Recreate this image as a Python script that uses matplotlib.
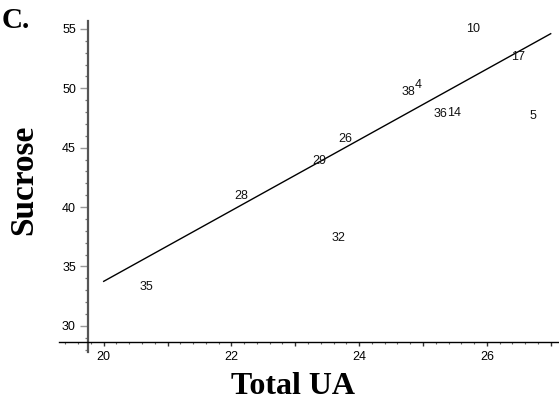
import matplotlib
matplotlib.use("Agg")
import matplotlib.pyplot as plt
from matplotlib.ticker import MultipleLocator, FixedLocator

# data
ids = ["10", "17", "38", "4", "36", "14", "5", "26", "29", "28", "32", "35"]
total_ua = [25.78, 26.49, 24.78, 24.92, 25.28, 25.49, 26.72, 23.79, 23.37, 22.16, 23.68, 20.67]
sucrose = [55.0, 52.65, 49.7, 50.3, 47.85, 47.9, 47.7, 45.75, 43.9, 40.9, 37.4, 33.3]

# regression line end points
fit_x = [20.0, 27.0]
fit_y = [33.75, 54.6]

yticks = [30, 35, 40, 45, 50, 55]

fig = plt.figure(figsize=(5.59, 4.01), dpi=100)
ax = fig.add_axes([59 / 559, 49 / 401, 500 / 559, 331 / 401])

ax.plot(fit_x, fit_y, color="black", lw=1.0)

for lab, x, y in zip(ids, total_ua, sucrose):
    ax.text(x, y, lab, ha="center", va="center", fontsize=9,
            family="Liberation Sans", color="#111111")

ax.set_xlim(19.3, 27.13)
ax.set_ylim(27.8, 55.67)

# axes crossing like the original
ax.spines["top"].set_visible(False)
ax.spines["right"].set_visible(False)
ax.spines["left"].set_position(("data", 19.75))
ax.spines["bottom"].set_position(("data", 28.65))
ax.spines["left"].set_color("#555555")
ax.spines["left"].set_linewidth(1.6)
ax.spines["bottom"].set_color("black")
ax.spines["bottom"].set_linewidth(1.0)

ax.xaxis.set_major_locator(FixedLocator([20, 21, 22, 23, 24, 25, 26, 27]))
ax.set_xticklabels(["20", "", "22", "", "24", "", "26", ""])
ax.xaxis.set_minor_locator(MultipleLocator(0.2))
ax.yaxis.set_major_locator(FixedLocator(yticks))
ax.yaxis.set_minor_locator(MultipleLocator(1))

ax.tick_params(axis="x", which="major", direction="out", length=3, width=1,
               color="#333333", labelsize=9, pad=3.5)
ax.tick_params(axis="x", which="minor", direction="out", length=1.2, width=0.8,
               color="#666666")
ax.tick_params(axis="y", which="major", direction="out", length=6, width=1,
               color="#999999", labelsize=9, pad=2.5)
ax.tick_params(axis="y", which="minor", direction="out", length=2.5, width=0.9,
               color="#777777")
for t in ax.get_xticklabels() + ax.get_yticklabels():
    t.set_family("Liberation Sans")

fig.text(293 / 559, 1 - 387 / 401, "Total UA", ha="center", va="center",
         fontsize=23, fontweight="bold", family="Liberation Serif")
fig.text(24 / 559, 1 - 180 / 401, "Sucrose", ha="center", va="center",
         rotation=90, fontsize=24, fontweight="bold", family="Liberation Serif")
fig.text(2 / 559, 1 - 21 / 401, "C.", ha="left", va="center",
         fontsize=21, fontweight="bold", family="Liberation Serif")

fig.savefig("out.png", dpi=100)
